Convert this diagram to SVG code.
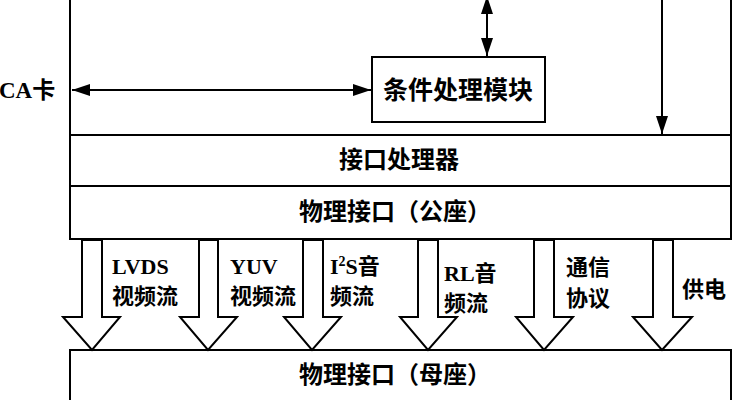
<svg xmlns="http://www.w3.org/2000/svg" width="750" height="400" viewBox="0 0 750 400">
<style>
.ln{fill:none;stroke:#000;stroke-width:2}
.box{fill:#fff;stroke:#000;stroke-width:2}
.blk{fill:#fff;stroke:#000;stroke-width:2;stroke-linejoin:miter}
.t{font-family:"Liberation Serif","Noto Sans CJK SC",serif;font-weight:bold;fill:#000}
.c{font-size:24px;text-anchor:middle;dominant-baseline:central}
.s{font-size:22px}
</style>
<defs>
<marker id="ah" viewBox="0 0 18 12" refX="18" refY="6" markerWidth="18" markerHeight="12" markerUnits="userSpaceOnUse" orient="auto-start-reverse">
<path d="M0,0 L18,6 L0,12 Z" fill="#000"/>
</marker>
</defs>
<rect width="750" height="400" fill="#fff"/>

<g id="outer-frame">
<path class="ln" d="M70,-2 V239 H731 V-2"/>
</g>
<g id="interface-processor">
<rect class="box" x="70" y="135" width="661" height="51"/>
<text class="t c" x="399" y="160">接口处理器</text>
</g>
<g id="phys-male">
<rect class="box" x="70" y="186" width="661" height="53"/>
<text class="t c" x="395" y="212">物理接口（公座）</text>
</g>
<g id="cond-module">
<rect class="box" x="372" y="57" width="173" height="65"/>
<text class="t c" x="458" y="90" style="font-size:25px">条件处理模块</text>
</g>
<g id="ca-card">
<text class="t" x="-1" y="98" style="font-size:23px">CA卡</text>
</g>
<g id="phys-female">
<rect class="box" x="70" y="350" width="661" height="60"/>
<text class="t c" x="395" y="375">物理接口（母座）</text>
</g>

<g id="connectors">
<line class="ln" x1="72" y1="90" x2="371" y2="90" marker-start="url(#ah)" marker-end="url(#ah)"/>
<line class="ln" x1="487" y1="-4" x2="487" y2="56" marker-start="url(#ah)" marker-end="url(#ah)"/>
<line class="ln" x1="662" y1="-2" x2="662" y2="134" marker-end="url(#ah)"/>
<polygon class="blk" points="82,240 82,317 63,317 92,350 120,317 102,317 102,240"/>
<polygon class="blk" points="199,240 199,317 180,317 208,350 237,317 218,317 218,240"/>
<polygon class="blk" points="303,240 303,317 284,317 312,350 341,317 323,317 323,240"/>
<polygon class="blk" points="418,240 418,317 400,317 428,350 457,317 438,317 438,240"/>
<polygon class="blk" points="534,240 534,317 516,317 544,350 573,317 554,317 554,240"/>
<polygon class="blk" points="653,240 653,317 633,317 662,350 692,317 673,317 673,240"/>
</g>

<g id="labels">
<text class="t s" x="112" y="274">LVDS</text>
<text class="t s" x="112" y="304">视频流</text>
<text class="t s" x="230" y="274">YUV</text>
<text class="t s" x="230" y="304">视频流</text>
<text class="t s" x="330" y="274">I<tspan dy="-8" style="font-size:14px">2</tspan><tspan dy="8">S音</tspan></text>
<text class="t s" x="330" y="304">频流</text>
<text class="t s" x="444" y="281">RL音</text>
<text class="t s" x="444" y="311">频流</text>
<text class="t s" x="566" y="275">通信</text>
<text class="t s" x="566" y="306">协议</text>
<text class="t s" x="682" y="297">供电</text>
</g>
</svg>
